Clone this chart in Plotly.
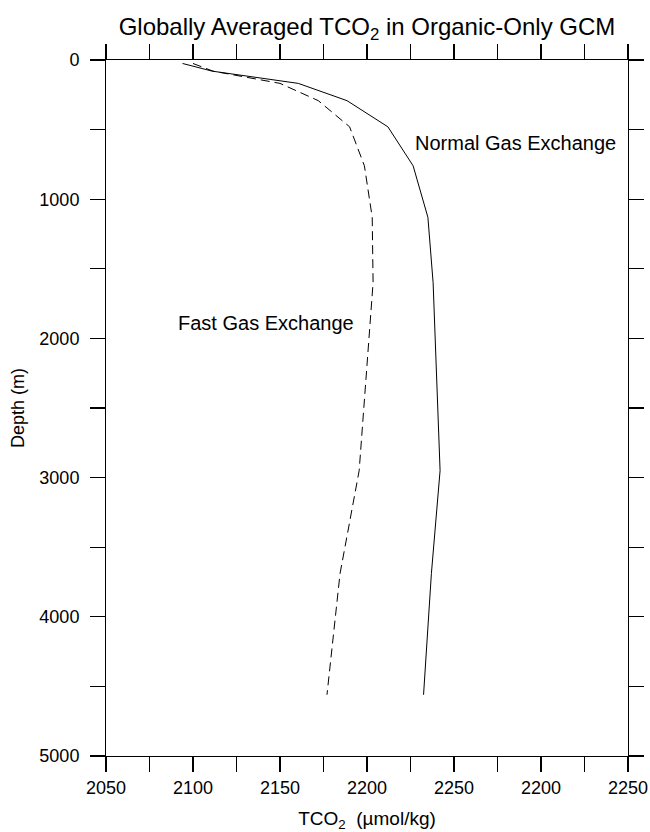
import plotly.graph_objects as go

# Data
depth_m = [25, 80, 168, 292, 480, 760, 1130, 1600, 2950, 3690, 4560]
tco2_normal = [2094, 2111, 2160.5, 2188.5, 2212, 2226.5, 2235, 2238, 2242, 2237, 2232.5]
tco2_fast = [2100, 2111.5, 2150, 2172, 2190, 2198.5, 2203, 2203.5, 2195.5, 2184.5, 2177]

x_tickvals = [2050, 2075, 2100, 2125, 2150, 2175, 2200, 2225, 2250, 2275, 2300, 2325, 2350]
x_ticktext = ["2050", "", "2100", "", "2150", "", "2200", "", "2250", "", "2200", "", "2250"]
y_tickvals = [0, 500, 1000, 1500, 2000, 2500, 3000, 3500, 4000, 4500, 5000]
y_ticktext = ["0", "", "1000", "", "2000", "", "3000", "", "4000", "", "5000"]

FONT = "Liberation Sans, Arial, Helvetica, sans-serif"

fig = go.Figure()
fig.add_trace(go.Scatter(x=tco2_normal, y=depth_m, mode="lines",
                         line=dict(color="black", width=1), name="Normal Gas Exchange",
                         showlegend=False))
fig.add_trace(go.Scatter(x=tco2_fast, y=depth_m, mode="lines",
                         line=dict(color="black", width=1, dash="9px,5px"), name="Fast Gas Exchange",
                         showlegend=False))

fig.add_annotation(x=2226.4, y=596, xref="x", yref="y", text="Normal Gas Exchange",
                   showarrow=False, xanchor="left", yanchor="middle",
                   font=dict(family=FONT, size=20, color="black"))
fig.add_annotation(x=2090.2, y=1889, xref="x", yref="y", text="Fast Gas Exchange",
                   showarrow=False, xanchor="left", yanchor="middle",
                   font=dict(family=FONT, size=20, color="black"))

axis_common = dict(showline=True, linecolor="black", linewidth=1, mirror="ticks",
                   ticks="outside", ticklen=15, tickwidth=1.3, tickcolor="black",
                   showgrid=False, zeroline=False,
                   tickfont=dict(family=FONT, size=18, color="black"))

fig.update_xaxes(range=[2050, 2350], tickmode="array", tickvals=x_tickvals, ticktext=x_ticktext,
                 title=dict(text="TCO<sub>2</sub>  (µmol/kg)", font=dict(family=FONT, size=19, color="black"),
                            standoff=20),
                 **axis_common)
fig.update_yaxes(range=[5000, 0], tickmode="array", tickvals=y_tickvals, ticktext=y_ticktext,
                 title=dict(text="Depth (m)", font=dict(family=FONT, size=18, color="black"),
                            standoff=10),
                 ticklabelstandoff=7,
                 **axis_common)

fig.update_layout(
    width=650, height=832,
    margin=dict(l=106, r=22, t=60, b=76, autoexpand=False),
    paper_bgcolor="white", plot_bgcolor="white",
    hovermode=False,
    title=dict(text="Globally Averaged TCO<sub>2</sub> in Organic-Only GCM",
               x=0.5646, xanchor="center", y=0.9675, yanchor="middle",
               font=dict(family=FONT, size=24, color="black")),
)

# remove the default page margin so the 650x832 figure fills the window exactly
fig.write_html("out.html",
               config={"displayModeBar": False, "staticPlot": True},
               post_script="document.body.style.margin='0';document.body.style.overflow='hidden';")
